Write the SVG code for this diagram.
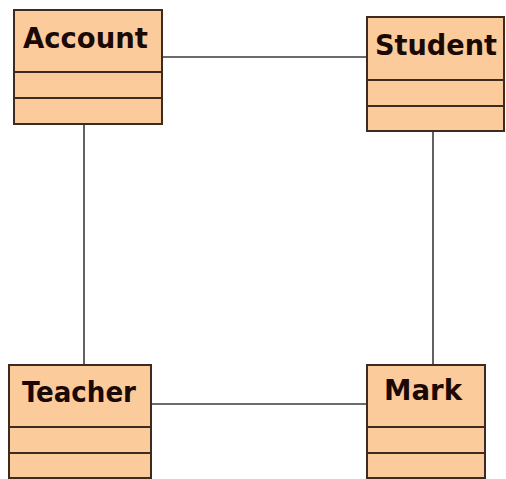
<svg xmlns="http://www.w3.org/2000/svg" width="506" height="479" viewBox="0 0 506 479">
<style>
.box{fill:#fccb9c;stroke:#3d2b1f;stroke-width:2}
.div{stroke:#3d2b1f;stroke-width:2}
.lbl{font-family:"DejaVu Sans Condensed","DejaVu Sans",sans-serif;font-weight:bold;font-size:29px;fill:#1a0905}
.con{stroke:#3a3a3a;stroke-width:1.6;fill:none}
</style>
<rect width="506" height="479" fill="#ffffff"/>
<g id="connectors">
<line class="con" x1="162" y1="57" x2="367" y2="57"/>
<line class="con" x1="84" y1="124" x2="84" y2="365"/>
<line class="con" x1="433" y1="131" x2="433" y2="365"/>
<line class="con" x1="151" y1="404" x2="367" y2="404"/>
</g>
<g id="Account">
<rect class="box" x="14" y="10" width="148" height="114"/>
<line class="div" x1="14" y1="72" x2="162" y2="72"/>
<line class="div" x1="14" y1="98" x2="162" y2="98"/>
<text class="lbl" x="23" y="48" textLength="125" lengthAdjust="spacingAndGlyphs">Account</text>
</g>
<g id="Student">
<rect class="box" x="367" y="17" width="137" height="114"/>
<line class="div" x1="367" y1="80" x2="504" y2="80"/>
<line class="div" x1="367" y1="106" x2="504" y2="106"/>
<text class="lbl" x="375" y="55" textLength="122" lengthAdjust="spacingAndGlyphs">Student</text>
</g>
<g id="Teacher">
<rect class="box" x="9" y="365" width="142" height="113"/>
<line class="div" x1="9" y1="427" x2="151" y2="427"/>
<line class="div" x1="9" y1="453" x2="151" y2="453"/>
<text class="lbl" x="22" y="402" textLength="114" lengthAdjust="spacingAndGlyphs">Teacher</text>
</g>
<g id="Mark">
<rect class="box" x="367" y="365" width="118" height="113"/>
<line class="div" x1="367" y1="427" x2="485" y2="427"/>
<line class="div" x1="367" y1="453" x2="485" y2="453"/>
<text class="lbl" x="384" y="400" textLength="78" lengthAdjust="spacingAndGlyphs">Mark</text>
</g>
</svg>
